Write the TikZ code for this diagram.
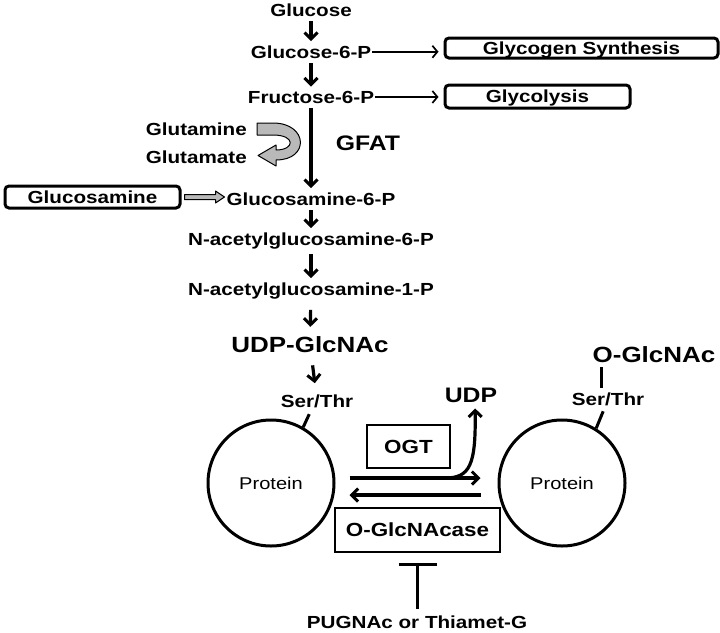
\documentclass[tikz,border=0pt]{standalone}
\usepackage{fontspec}
\setmainfont{Liberation Sans}[FakeStretch=1.18]
\usetikzlibrary{arrows.meta,calc}

\tikzset{
  lbl/.style={font=\fontsize{17.5}{20}\selectfont\bfseries, inner sep=1pt, anchor=base},
  biglbl/.style={font=\fontsize{22}{24}\selectfont\bfseries, inner sep=1pt, anchor=base},
  rbox/.style={draw, line width=3pt, rounded corners=4pt, inner sep=0pt, text depth=0pt,
    font=\fontsize{17.5}{20}\selectfont\bfseries},
  sbox/.style={draw, line width=1.8pt, inner sep=0pt, text depth=0pt,
    font=\fontsize{19}{22}\selectfont\bfseries},
  prot/.style={circle, draw, line width=3pt, minimum size=126pt, inner sep=0pt,
    font=\fontsize{17}{20}\selectfont},
  flow/.style={line width=3.2pt, shorten <=4pt, shorten >=3pt,
    -{Straight Barb[length=6.5pt, width=13pt, line width=3pt]}},
  side/.style={line width=1.7pt, shorten >=5pt,
    -{Straight Barb[length=5pt, width=12pt, line width=1.7pt]}},
  hollow/.style={fill=gray!55, draw=black, line width=1pt, line join=round},
  inhibit/.style={line width=3pt, shorten <=5pt, shorten >=10pt, -{Bar[width=38pt]}},
}

\begin{document}
\begin{tikzpicture}[x=1pt, y=-1pt]
  \useasboundingbox (0,0) rectangle (720,632);
  %
  % main pathway
  \node[lbl] (glc) at (311,16) {Glucose};
  \node[lbl] (gsixp) at (311,58) {Glucose-6-P};
  \node[lbl] (fsixp) at (311,103) {Fructose-6-P};
  \node[lbl] (gnsixp) at (311,205) {Glucosamine-6-P};
  \node[lbl] (nagsixp) at (311,245) {N-acetylglucosamine-6-P};
  \node[lbl] (nagonep) at (311,295) {N-acetylglucosamine-1-P};
  \node[biglbl] (udpglc) at (310,352) {UDP-GlcNAc};
  %
  \draw[flow] (glc) -- (gsixp);
  \draw[flow] (gsixp) -- (fsixp);
  \draw[flow] (fsixp) -- (gnsixp);
  \draw[flow] (gnsixp) -- (nagsixp);
  \draw[flow] (nagsixp) -- (nagonep);
  \draw[flow, shorten <=10pt, shorten >=8pt] (nagonep) -- (udpglc);
  %
  % side branches
  \node[rbox, minimum width=273pt, minimum height=20pt] (glycogen) at (581.5,48) {Glycogen Synthesis};
  \node[rbox, minimum width=185pt, minimum height=23pt] (glycolysis) at (537.5,96.5) {Glycolysis};
  \draw[side] (gsixp.east) -- (gsixp.east -| glycogen.west);
  \draw[side] (fsixp.east) -- (fsixp.east -| glycolysis.west);
  %
  \node[lbl, anchor=base east] (gln) at (248,135) {Glutamine};
  \node[lbl, anchor=base east] (glu) at (248,163) {Glutamate};
  \node[biglbl, font=\fontsize{21}{24}\selectfont\bfseries] (gfat) at (368,150) {GFAT};
  \filldraw[hollow] (257,123) -- (273,123) .. controls (308,123) and (310,160) .. (276,160)
    -- (276,166) -- (258,155.5) -- (276,145) -- (276,150)
    .. controls (295,150) and (296,135) .. (273,135) -- (257,135) -- cycle;
  %
  \node[rbox, minimum width=175pt, minimum height=22pt] (gsam) at (92.5,197) {Glucosamine};
  \filldraw[hollow] ([shift={(3,-2.5)}]gsam.east) -- ++(31,0) -- ++(0,-3.5) -- ++(9,6)
    -- ++(-9,6) -- ++(0,-3.5) -- ++(-31,0) -- cycle;
  %
  % O-GlcNAc cycling
  \node[lbl] (serL) at (317,407) {Ser/Thr};
  \draw[flow, shorten <=12pt, shorten >=10pt] (udpglc) -- (serL);
  \node[prot] (protL) at (271,483) {Protein};
  \draw[line width=3pt] (protL.60) -- ++(6,-13);
  %
  \node[prot] (protR) at (562,483) {Protein};
  \node[lbl] (serR) at (608,405) {Ser/Thr};
  \node[biglbl] (oglcnac) at (654,362) {O-GlcNAc};
  \draw[line width=3pt] (protR.58) -- ++(7,-17);
  \draw[line width=3pt, shorten >=3pt] ([xshift=10pt, yshift=-4pt]oglcnac.south west)
    -- ([xshift=10pt]oglcnac.south west |- serR.north);
  %
  \node[sbox, minimum width=83pt, minimum height=43pt] (ogt) at (408.5,446.5) {OGT};
  \node[sbox, minimum width=165pt, minimum height=44pt] (oga) at (417.5,530) {O-GlcNAcase};
  \draw[flow, shorten <=0pt, shorten >=0pt] ([shift={(14,-5)}]protL.east) -- ([shift={(-17,-5)}]protR.west);
  \draw[flow, shorten <=0pt, shorten >=0pt] ([shift={(-17,12)}]protR.west) -- ([shift={(14,12)}]protL.east);
  %
  \node[biglbl, font=\fontsize{21}{24}\selectfont\bfseries] (udp) at (471,402) {UDP};
  \coordinate (udpfrom) at (445,478);
  \draw[flow, shorten <=0pt, shorten >=5pt] (udpfrom) .. controls (470,478) and (476,465) .. ([xshift=4pt]udp.south);
  %
  \node[lbl] (inhib) at (417,628) {PUGNAc or Thiamet-G};
  \draw[inhibit] (inhib.north -| oga.south) -- (oga.south);
\end{tikzpicture}
\end{document}
